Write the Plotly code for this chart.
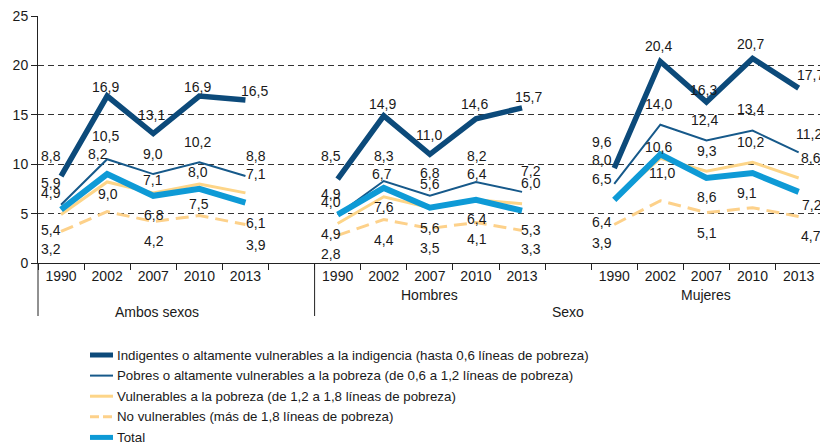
import plotly.graph_objects as go

# ---------------------------------------------------------------- data
years = ["1990", "2002", "2007", "2010", "2013"]
groups = ["Ambos sexos", "Hombres", "Mujeres"]

indigentes = {
    "Ambos sexos": [8.8, 16.9, 13.1, 16.9, 16.5],
    "Hombres": [8.5, 14.9, 11.0, 14.6, 15.7],
    "Mujeres": [9.6, 20.4, 16.3, 20.7, 17.7],
}
pobres = {
    "Ambos sexos": [5.9, 10.5, 9.0, 10.2, 8.8],
    "Hombres": [4.9, 8.3, 6.8, 8.2, 7.2],
    "Mujeres": [8.0, 14.0, 12.4, 13.4, 11.2],
}
vulnerables = {
    "Ambos sexos": [4.9, 8.2, 7.1, 8.0, 7.1],
    "Hombres": [4.0, 6.7, 5.6, 6.4, 6.0],
    "Mujeres": [6.5, 10.6, 9.3, 10.2, 8.6],
}
no_vulnerables = {
    "Ambos sexos": [3.2, 5.2, 4.2, 4.8, 3.9],
    "Hombres": [2.8, 4.4, 3.5, 4.1, 3.3],
    "Mujeres": [3.9, 6.3, 5.1, 5.6, 4.7],
}
total = {
    "Ambos sexos": [5.4, 9.0, 6.8, 7.5, 6.1],
    "Hombres": [4.9, 7.6, 5.6, 6.4, 5.3],
    "Mujeres": [6.4, 11.0, 8.6, 9.1, 7.2],
}

legend_names = {
    "indigentes": "Indigentes o altamente vulnerables a la indigencia (hasta 0,6 líneas de pobreza)",
    "pobres": "Pobres o altamente vulnerables a la pobreza (de 0,6 a 1,2 líneas de pobreza)",
    "vulnerables": "Vulnerables a la pobreza (de 1,2 a 1,8 líneas de pobreza)",
    "no_vulnerables": "No vulnerables (más de 1,8 líneas de pobreza)",
    "total": "Total",
}
group_title = "Sexo"

# ---------------------------------------------------------------- styling
series = [
    # key, values, colour, width, dash
    ("indigentes", indigentes, "#0c4a7a", 5.5, "solid"),
    ("pobres", pobres, "#16598a", 2, "solid"),
    ("vulnerables", vulnerables, "#fdd588", 3, "solid"),
    ("no_vulnerables", no_vulnerables, "#fdd18a", 3, "13px,7px"),
    ("total", total, "#0e9ad6", 6, "solid"),
]
draw_order = ["no_vulnerables", "vulnerables", "pobres", "indigentes", "total"]

# pixel offsets (dx, dy; dy downwards) of each value label from its point;
# None means the value is drawn without a label
label_offsets = {
    "indigentes": {
        "Ambos sexos": [(-10, -20), (-2, -9), (-2, -19), (-2, -9), (9, -9)],
        "Hombres": [(-7, -23), (-1, -12), (-1, -19), (-1, -15), (6, -11)],
        "Mujeres": [(-12, -26), (-2, -15), (-3, -12), (-2, -14), (12, -13)],
    },
    "pobres": {
        "Ambos sexos": [(-10, -22), (-2, -23), (0, -20), (-2, -20), (11, -20)],
        "Hombres": [(-7, -21), (0, -25), (0, -23), (1, -26), (9, -21)],
        "Mujeres": [(-12, -24), (-2, -21), (-2, -20), (-2, -22), (10, -18)],
    },
    "vulnerables": {
        "Ambos sexos": [(-10, -22), (-9, -28), (0, -13), (-1, -12), (11, -19)],
        "Hombres": [(-7, -21), (-2, -23), (0, -24), (1, -26), (9, -21)],
        "Mujeres": [(-12, -20), (-2, -11), (1, -20), (-2, -20), (12, -20)],
    },
    "total": {
        "Ambos sexos": [(-10, 20), (1, 20), (1, 19), (0, 15), (11, 20)],
        "Hombres": [(-7, 19), (0, 19), (0, 20), (1, 19), (9, 19)],
        "Mujeres": [(-12, 22), (2, 19), (1, 19), (-6, 20), (13, 13)],
    },
    "no_vulnerables": {
        "Ambos sexos": [(-10, 18), None, (1, 19), None, (11, 21)],
        "Hombres": [(-7, 19), (0, 20), (0, 20), (1, 17), (9, 19)],
        "Mujeres": [(-12, 19), None, (1, 20), None, (12, 19)],
    },
}

FONT = "Liberation Sans, Arial, sans-serif"
TEXT = "#1a1a1a"
AXIS = "#222222"

W, H = 820, 447
L, T, B, R = 38, 16, 184, 0
PW, PH = W - L - R, H - T - B
SLOT = len(years) + 1  # one empty slot between groups
CAT_PX = 46.1


def px(x):
    return (x - L) / PW


def py(y):
    return (T + PH - y) / PH


def xpos(g, j):
    return groups.index(g) * SLOT + j


def fmt(v):
    return f"{v:.1f}".replace(".", ",")


fig = go.Figure()

style = {k: (d, c, w, dsh) for k, d, c, w, dsh in series}
for key in draw_order:
    data, color, width, dash = style[key]
    xs, ys = [], []
    for g in groups:
        xs += [xpos(g, j) for j in range(len(years))] + [None]
        ys += data[g] + [None]
    fig.add_trace(go.Scatter(
        x=xs, y=ys, mode="lines", name=legend_names[key], showlegend=False,
        line=dict(color=color, width=width, dash=dash), connectgaps=False,
        hoverinfo="skip",
    ))

annotations = []
for key, data, *_ in series:
    for g in groups:
        for j, v in enumerate(data[g]):
            off = label_offsets[key][g][j]
            if off is None:
                continue
            dx, dy = off
            annotations.append(dict(
                x=xpos(g, j), y=v, xref="x", yref="y", text=fmt(v),
                showarrow=False, xshift=dx, yshift=-dy,
                font=dict(family=FONT, size=14, color=TEXT),
            ))

# group labels under the year ticks
for g in groups[1:]:
    annotations.append(dict(
        x=xpos(g, 2), y=0, xref="x", yref="paper", yshift=-32,
        text=g, showarrow=False, yanchor="middle",
        font=dict(family=FONT, size=14, color=TEXT),
    ))
annotations.append(dict(
    x=xpos(groups[0], 2), y=0, xref="x", yref="paper", yshift=-49, xshift=4,
    text=groups[0], showarrow=False, yanchor="middle",
    font=dict(family=FONT, size=14, color=TEXT),
))
annotations.append(dict(
    x=(xpos(groups[1], 0) + xpos(groups[-1], len(years) - 1)) / 2, y=0,
    xref="x", yref="paper", yshift=-49, text=group_title, showarrow=False,
    yanchor="middle", font=dict(family=FONT, size=14, color=TEXT),
))

shapes = []
axis_bottom = py(316)
# y axis extended down through the category rows, plus the group divider
shapes.append(dict(type="line", xref="paper", yref="paper", x0=0, x1=0,
                   y0=axis_bottom, y1=0, line=dict(color=AXIS, width=1)))
div_x = xpos(groups[1], 0) - 0.5
shapes.append(dict(type="line", xref="x", yref="paper", x0=div_x, x1=div_x,
                   y0=axis_bottom, y1=0, line=dict(color=AXIS, width=1)))

# legend drawn by hand so the samples stay short
row0, row_step = 355, 20.6
legend_order = ["indigentes", "pobres", "vulnerables", "no_vulnerables", "total"]
for i, key in enumerate(legend_order):
    _, color, width, dash = style[key]
    yy = py(row0 + i * row_step)
    shapes.append(dict(
        type="line", xref="paper", yref="paper", x0=px(90), x1=px(113),
        y0=yy, y1=yy,
        line=dict(color=color, width=min(width, 5),
                  dash="9px,4px" if dash != "solid" else "solid"),
    ))
    annotations.append(dict(
        x=px(115), y=yy, xref="paper", yref="paper", xanchor="left",
        yanchor="middle", text=legend_names[key], showarrow=False,
        font=dict(family=FONT, size=13.3, color=TEXT),
    ))

centers = [xpos(g, j) for g in groups for j in range(len(years))]
x_max = -0.5 + PW / CAT_PX

fig.update_layout(
    width=W, height=H, margin=dict(l=L, r=R, t=T, b=B, autoexpand=False),
    paper_bgcolor="white", plot_bgcolor="white",
    font=dict(family=FONT, size=14, color=TEXT),
    showlegend=False,
    xaxis=dict(
        range=[-0.5, x_max], tickmode="array", tickvals=centers,
        ticktext=years * len(groups), ticks="", showgrid=False, zeroline=False,
        showline=True, linecolor=AXIS, linewidth=1,
        tickfont=dict(family=FONT, size=14, color=TEXT),
        minor=dict(tickmode="linear", tick0=-0.5, dtick=1, ticks="outside",
                   ticklen=6, tickcolor=AXIS, tickwidth=1, showgrid=False),
    ),
    yaxis=dict(
        range=[0, 25], tickmode="linear", tick0=0, dtick=5, ticks="outside",
        ticklen=6, tickcolor=AXIS, showline=True, linecolor=AXIS,
        showgrid=True, gridcolor="#333333", gridwidth=1, griddash="6px,4px",
        zeroline=False, tickfont=dict(family=FONT, size=14, color=TEXT),
    ),
    annotations=annotations,
    shapes=shapes,
)

fig.write_html("out.html")
